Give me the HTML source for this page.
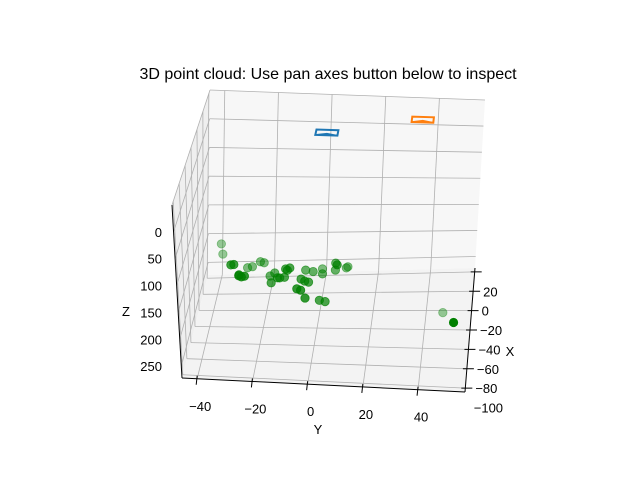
<!DOCTYPE html>
<html><head><meta charset="utf-8"><style>
html,body{margin:0;padding:0;background:#fff;}
svg{display:block;font-family:"Liberation Sans","DejaVu Sans",sans-serif;}
</style></head><body>
<svg id="chart" width="640" height="480" viewBox="0 0 640 480">
<text x="328" y="79" font-size="16" text-anchor="middle">3D point cloud: Use pan axes button below to inspect</text>
<g id="panes"></g><g id="grid"></g><g id="axes"></g><g id="marks"></g><g id="labels"></g>
</svg>
<script>
const xTicks=[-100,-80,-60,-40,-20,0,20,40];
const xTickLabels=["−100","−80","−60","−40","−20","0","20",""];
const yTicks=[-40,-20,0,20,40];
const yTickLabels=["−40","−20","0","20","40"];
const zTicks=[0,50,100,150,200,250];
const zTickLabels=["0","50","100","150","200","250"];
const ptX=[-34.2,-45.8,-57.9,-57.3,-60.5,-59.1,-53.2,-54.2,-70.0,-71.1,-70.2,-68.9,-68.9,-65.3,-70.7,-76.6,-70.7,-69.8,-60.4,-59.1,-61.8,-60.9,-62.2,-58.9,-64.4,-71.1,-73.2,-74.2,-82.2,-83.6,-83.1,-83.1,-83.1,-53.8,-59.7,-52,-55.6,-56.9,-43.1,-53.2];
const ptY=[-34,-32.5,-28.7,-27.7,-22.6,-21,-18.6,-17.2,-25,-24,-23,-25,-14.1,-12.7,-11.4,-13.2,-10.6,-9,-9.2,-7.8,-8.5,-2.1,0.6,3.7,4,-3.1,-1.7,-0.3,-3.9,-2.5,-1,4,6,8.6,8.3,8,12.5,12,46.8,51];
const ptZ=[100,100,100,100,100,100,100,100,100,100,100,100,100,100,100,100,100,100,100,100,100,100,100,100,100,100,100,100,100,100,115,118,120,100,100,100,100,100,200,200];
const ptAlpha=[0.4,0.4,0.75,0.75,0.5,0.5,0.5,0.5,0.8,0.8,0.8,0.8,0.6,0.6,0.7,0.7,0.7,0.7,0.7,0.7,0.7,0.6,0.6,0.5,0.6,0.7,0.7,0.7,0.8,0.8,0.8,0.7,0.7,0.75,0.6,0.6,0.5,0.5,0.4,1.0];
const camX=[13.8,31.6];
const camY=[0.3,34.5];
const camZ=[-30,-30];
const camColor=["#1f77b4","#ff7f0e"];

const X0=-84,X1=44,Y0=-45.5,Y1=57,Z0=272,Z1=-50;
const C={"000":[182,378],"010":[465,392],"001":[172,205],"011":[478,215],
"100":[208,275],"110":[475,268],"101":[210,90],"111":[485,100]};
function P(x,y,z){
 const a=(x-X0)/(X1-X0),b=(y-Y0)/(Y1-Y0),c=(z-Z0)/(Z1-Z0);
 let sx=0,sy=0;
 for(const i of [0,1])for(const j of [0,1])for(const k of [0,1]){
  const w=(i?a:1-a)*(j?b:1-b)*(k?c:1-c);const p=C[""+i+j+k];sx+=w*p[0];sy+=w*p[1];}
 return [sx,sy];
}
const NS="http://www.w3.org/2000/svg";
function mk(t,attrs,parent){const e=document.createElementNS(NS,t);for(const k in attrs)e.setAttribute(k,attrs[k]);document.getElementById(parent).appendChild(e);return e;}
function pts(a){return a.map(p=>p[0].toFixed(1)+","+p[1].toFixed(1)).join(" ");}
let e;
e=mk("polygon",{points:pts([P(X1,Y0,Z0),P(X1,Y1,Z0),P(X1,Y1,Z1),P(X1,Y0,Z1)]),fill:"#f7f7f7"},"panes");

e=mk("polygon",{points:pts([P(X0,Y0,Z0),P(X1,Y0,Z0),P(X1,Y0,Z1),P(X0,Y0,Z1)]),fill:"#efefef"},"panes");

e=mk("polygon",{points:pts([P(X0,Y0,Z0),P(X0,Y1,Z0),P(X1,Y1,Z0),P(X1,Y0,Z0)]),fill:"#f3f3f3"},"panes");

function gl(a,b,name){const l=mk("line",{x1:a[0],y1:a[1],x2:b[0],y2:b[1],stroke:"#b0b0b0","stroke-width":0.8},"grid");
}
yTicks.forEach(y=>{gl(P(X0,y,Z0),P(X1,y,Z0),'y-gridline');gl(P(X1,y,Z0),P(X1,y,Z1),'y-gridline');});
xTicks.filter(x=>x>=X0).forEach(x=>{gl(P(x,Y0,Z0),P(x,Y1,Z0),'x-gridline');gl(P(x,Y0,Z0),P(x,Y0,Z1),'x-gridline');});
[-50].concat(zTicks).forEach(z=>{gl(P(X1,Y0,z),P(X1,Y1,z),'z-gridline');gl(P(X0,Y0,z),P(X1,Y0,z),'z-gridline');});
function al(a,b,name){const l=mk("line",{x1:a[0],y1:a[1],x2:b[0],y2:b[1],stroke:"#000","stroke-width":1},"axes");
}
al(P(X0,Y0,Z0),P(X0,Y1,Z0),'y-axis-line');
al(P(X0,Y1,Z0),P(X1,Y1,Z0),'x-axis-line');
al(P(X0,Y0,Z0),P(X0,Y0,Z1),'z-axis-line');
yTicks.forEach((y,i)=>{const p=P(X0,y,Z0);al([p[0],p[1]-3],[p[0]-1,p[1]+6],'y-tick');
 const t=mk("text",{x:p[0]+3,y:p[1]+32,"font-size":13,"text-anchor":"middle"},"labels");t.textContent=yTickLabels[i];
 });
xTicks.forEach((x,i)=>{const p=P(x,Y1,Z0);if(x>=X0)al([p[0]-4,p[1]],[p[0]+7,p[1]],'x-tick');
 const t=mk("text",{x:p[0]+10,y:p[1]+5,"font-size":13,"text-anchor":"start"},"labels");t.textContent=xTickLabels[i];
 });
zTicks.forEach((z,i)=>{const p=P(X0,Y0,z);
 const t=mk("text",{x:162,y:p[1]+5,"font-size":13,"text-anchor":"end"},"labels");t.textContent=zTickLabels[i];
 });
[["X",510,356,'x-axis-title'],["Y",318,434,'y-axis-title'],["Z",126,316,'z-axis-title']].forEach(a=>{
 const t=mk("text",{x:a[1],y:a[2],"font-size":13,"text-anchor":"middle"},"labels");t.textContent=a[0];
 });
camX.forEach((cx,i)=>{
 const q=[P(cx-3,camY[i]-4,camZ[i]),P(cx-3,camY[i]+4,camZ[i]),P(cx+3,camY[i]+4,camZ[i]),P(cx+3,camY[i]-4,camZ[i])];
 const g=mk("polygon",{points:pts(q),fill:"none",stroke:camColor[i],"stroke-width":2},"marks");
 
 const c=P(cx,camY[i],camZ[i]);
 const tr=mk("polyline",{points:pts([q[0],[c[0],c[1]+1],q[1]]),fill:"none",stroke:camColor[i],"stroke-width":1.5},"marks");
 
});
ptX.forEach((x,i)=>{const p=P(x,ptY[i],ptZ[i]);
 const c=mk("circle",{cx:p[0],cy:p[1],r:4.2,fill:"#008000","fill-opacity":ptAlpha[i],stroke:"#008000","stroke-opacity":ptAlpha[i],"stroke-width":0.8},"marks");
 });
</script>
</body></html>
